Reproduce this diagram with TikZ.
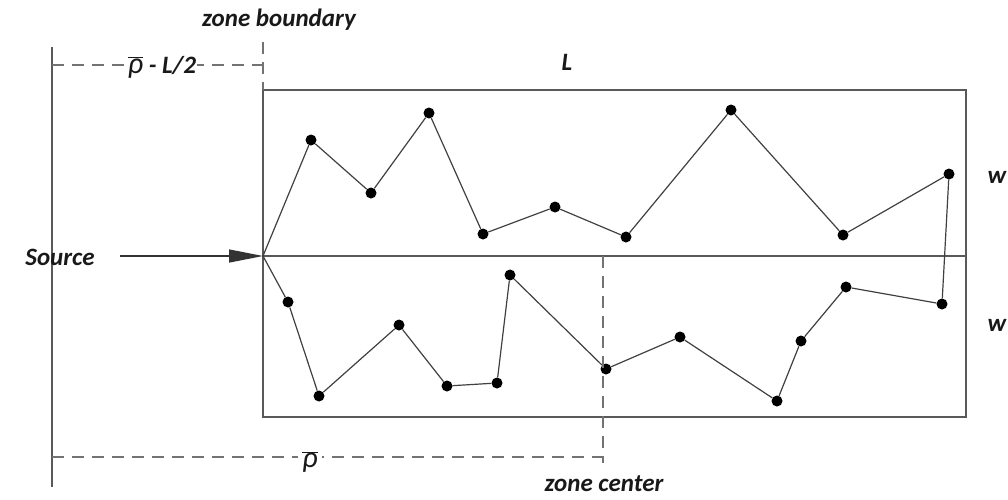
\documentclass[tikz,border=0pt]{standalone}
\usepackage{fontspec}
\setmainfont{Carlito}
\usetikzlibrary{arrows.meta}
\newcommand{\rhobar}{$\overline{\hbox{\fontsize{30}{32}\selectfont\mdseries\itshape ρ}}$}
\begin{document}
\begin{tikzpicture}[x=1pt,y=-1pt,
 lbl/.style={font=\fontsize{25}{28}\selectfont\bfseries\itshape, text=black!90, inner sep=1pt},
 dot/.style={circle,fill=black,inner sep=0pt,minimum size=11pt},
 frame/.style={draw=black!65,line width=1.6pt},
 walk/.style={draw=black!75,line width=1.2pt},
 dim/.style={draw=black!55,line width=1.5pt,dash pattern=on 12pt off 8pt}]
\useasboundingbox (0,0) rectangle (1008,499);
% frame
\coordinate (o) at (263,256);
\coordinate (bl) at (263,417);
\coordinate (tr) at (966,90);
\coordinate (mr) at (966,256);
\draw[frame] (bl) rectangle (tr);
\draw[frame] (o) -- (mr);
% left reference line
\coordinate (lt) at (52,47);
\coordinate (lb) at (52,487);
\draw[frame,line width=1.5pt] (lt) -- (lb);
% dots
\foreach \n/\x/\y in {u1/311/140,u2/371/193,u3/429/113,u4/483/234,u5/555/207,u6/626/237,u7/731/110,u8/843/235,u9/949/174,
 d1/288/302,d2/319/396,d3/399/325,d4/447/386,d5/497/383,d6/510/275,d7/606/369,d8/680/337,d9/777/401,d10/801/341,d11/846/287,d12/942/304}
 \node[dot] (\n) at (\x,\y) {};
\draw[walk] (o) -- (u1) -- (u2) -- (u3) -- (u4) -- (u5) -- (u6) -- (u7) -- (u8) -- (u9) -- (d12);
\draw[walk] (o) -- (d1) -- (d2) -- (d3) -- (d4) -- (d5) -- (d6) -- (d7) -- (d8) -- (d9) -- (d10) -- (d11) -- (d12);
% source arrow
\coordinate (s0) at (120,256);
\draw[draw=black!80,line width=1.3pt,-{Triangle[length=34pt,width=13pt]}] (s0) -- (o);
% labels
\node[lbl] (source) at (60,257) {Source};
\node[lbl] (L) at (567,62) {L};
\node[lbl] (w1) at (997,177) {w};
\node[lbl] (w2) at (997,325) {w};
\node[lbl] (zb) at (279,20) {zone boundary};
\node[lbl] (zc) at (604,484) {zone center};
% dimension lines
\coordinate (t0) at (52,65);
\coordinate (t1) at (263,65);
\coordinate (zbt) at (263,42);
\coordinate (zbb) at (263,90);
\draw[dim] (t0) -- (t1);
\draw[dim] (zbt) -- (zbb);
\node[lbl,fill=white] (rl) at (162,67) {\rhobar\ - L/2};
\coordinate (b0) at (52,457);
\coordinate (b1) at (603,457);
\coordinate (zct) at (603,256);
\coordinate (zcb) at (603,463);
\draw[dim] (b0) -- (b1);
\draw[dim] (zct) -- (zcb);
\node[lbl,fill=white,inner sep=4pt] (rb) at (310,462) {\rhobar};
\end{tikzpicture}
\end{document}
